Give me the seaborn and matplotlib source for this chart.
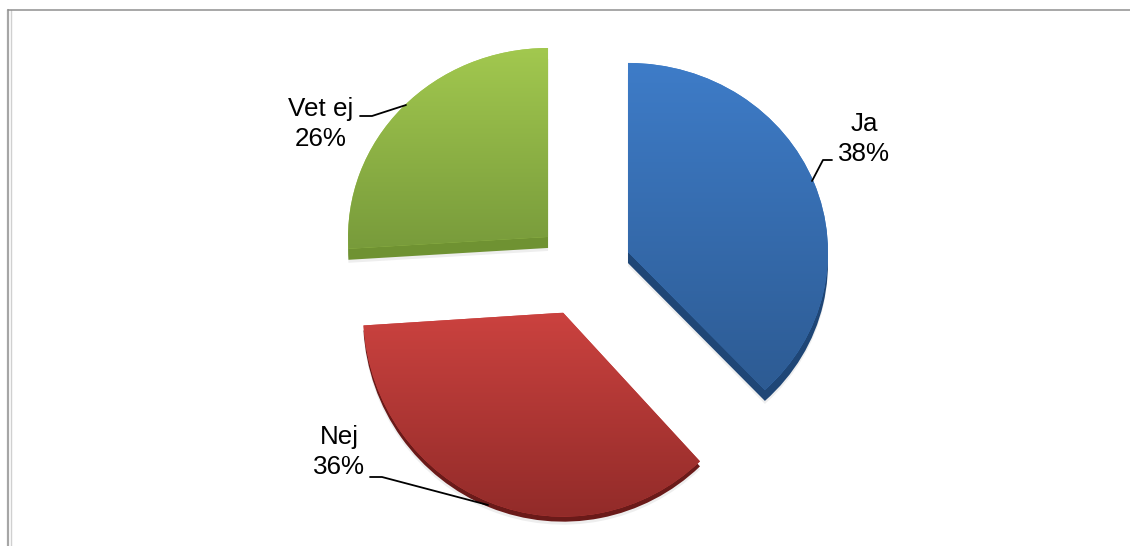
import numpy as np
import matplotlib
matplotlib.use("Agg")
import matplotlib.pyplot as plt
import seaborn as sns
from matplotlib.lines import Line2D
from matplotlib.transforms import Affine2D

# data
labels = ["Ja", "Nej", "Vet ej"]
values = [38, 36, 26]
top_colors = ["#3e7cc8", "#cb423f", "#a2c84f"]
bottom_colors = ["#2d5b93", "#922b29", "#789b3b"]
side_colors = ["#1f4676", "#6a1a19", "#6f9232"]

W, H = 1130, 546
cx, cy = 581.5, 271
rx, ry = 200, 192

# the original is a tilted 3D pie: nearer slices come out a little taller
stretch = [0.985, 1.0625, 0.984]
shift_x = [0, 0, 0.015]
shift_y = [0.008, 0.03, 0.009]
depth = [11, 5, 11]

sns.set_theme(style="white")
plt.rcParams["font.family"] = ["Liberation Sans", "DejaVu Sans"]

fig, ax = plt.subplots(figsize=(W / 100, H / 100), dpi=100)
ax.set_position([0, 0, 1, 1])

explode = [0.25] * 3


def slice_tf(i, extra=0.0):
    return Affine2D().scale(1, stretch[i]).translate(shift_x[i], shift_y[i] - extra / ry)


# soft shadow + side of the slices
shadow, _ = ax.pie(values, explode=explode, startangle=90, counterclock=False,
                   colors=["#cfcfcf"] * 3, wedgeprops={"alpha": 0.35, "linewidth": 0})
sides, _ = ax.pie(values, explode=explode, startangle=90, counterclock=False,
                  colors=side_colors, wedgeprops={"linewidth": 0})
wedges, _ = ax.pie(values, explode=explode, startangle=90, counterclock=False,
                   colors=top_colors, wedgeprops={"linewidth": 0})

# vertical gradient inside each slice
grad = np.linspace(0, 1, 256).reshape(-1, 1)
for i in range(3):
    shadow[i].set_transform(slice_tf(i, depth[i] + 3) + ax.transData)
    sides[i].set_transform(slice_tf(i, depth[i]) + ax.transData)
    wedges[i].set_transform(slice_tf(i) + ax.transData)
    cmap = sns.blend_palette([top_colors[i], bottom_colors[i]], as_cmap=True)
    bb = wedges[i].get_path().get_extents(wedges[i].get_patch_transform() + slice_tf(i))
    im = ax.imshow(grad, cmap=cmap, aspect="auto", zorder=3,
                   extent=[bb.x0, bb.x1, bb.y0, bb.y1], origin="upper")
    im.set_clip_path(wedges[i])

ax.set_aspect("auto")
ax.set_xlim(-cx / rx, (W - cx) / rx)
ax.set_ylim((cy - H) / ry, cy / ry)
ax.axis("off")


def fx(x):
    return x / W


def fy(y):
    return 1 - y / H


# labels, centred on their block
label_pos = [(864, 139), (339, 452), (321, 124)]
for lab, val, (x, y) in zip(labels, values, label_pos):
    fig.text(fx(x), fy(y), f"{lab}\n{val}%", ha="center", va="center", fontsize=18.7,
             color="black", linespacing=1.28)

# leader lines
leaders = [
    ([812, 823, 832], [181, 160, 160]),
    ([488, 382, 370], [505, 477, 477]),
    ([406, 372, 360], [105, 116, 116]),
]
for xs, ys in leaders:
    fig.add_artist(Line2D([fx(v) for v in xs], [fy(v) for v in ys], color="black", lw=1.3,
                          transform=fig.transFigure))

# chart frame, cut off on the right and bottom
fig.add_artist(Line2D([fx(8), fx(8)], [0, fy(10)], color="#a6a6a6", lw=1.6, transform=fig.transFigure))
fig.add_artist(Line2D([fx(10.5), fx(10.5)], [0, fy(10)], color="#d0d0d0", lw=1, transform=fig.transFigure))
fig.add_artist(Line2D([fx(8), 1], [fy(10), fy(10)], color="#8f8f8f", lw=1.1, transform=fig.transFigure))

fig.savefig("out.png", dpi=100, facecolor="white")
